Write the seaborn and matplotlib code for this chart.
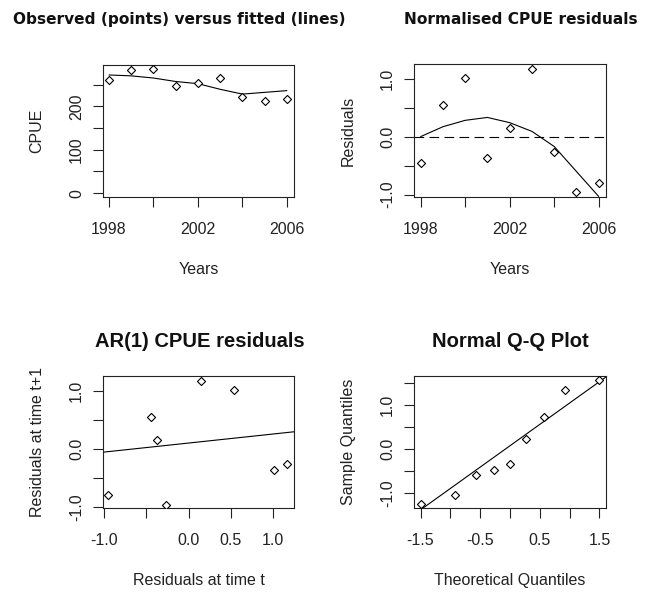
import numpy as np
import pandas as pd
import matplotlib
matplotlib.use("Agg")
import matplotlib.pyplot as plt
import seaborn as sns

# ---------------- data ----------------
years = [1998, 1999, 2000, 2001, 2002, 2003, 2004, 2005, 2006]
cpue_observed = [261, 283, 286, 246, 254, 265, 222, 212, 217]
cpue_fitted = [272, 270, 265, 257, 252, 239, 228, 232, 236]

residuals = [-0.45, 0.54, 1.01, -0.37, 0.15, 1.17, -0.27, -0.96, -0.80]
residual_trend = [0.0, 0.17, 0.28, 0.33, 0.24, 0.09, -0.17, -0.60, -1.03]

ar_intercept = 0.097
ar_slope = 0.155

qq_theoretical = [-1.49, -0.93, -0.57, -0.27, 0.0, 0.27, 0.57, 0.93, 1.49]
qq_sample = [-1.26, -1.04, -0.58, -0.48, -0.33, 0.22, 0.73, 1.35, 1.56]

titles = ["Observed (points) versus fitted (lines)", "Normalised CPUE residuals",
          "AR(1) CPUE residuals", "Normal Q-Q Plot"]

year_ticks = [1998, 2000, 2002, 2004, 2006]
year_labels = ["1998", "", "2002", "", "2006"]
cpue_ticks = [0, 50, 100, 150, 200, 250]
cpue_labels = ["0", "", "100", "", "200", ""]
res_ticks = [-1.0, -0.5, 0.0, 0.5, 1.0]
res_labels = ["-1.0", "", "0.0", "", "1.0"]
ar_x_labels = ["-1.0", "", "0.0", "0.5", "1.0"]
qq_x_ticks = [-1.5, -1.0, -0.5, 0.0, 0.5, 1.0, 1.5]
qq_x_labels = ["-1.5", "", "-0.5", "", "0.5", "", "1.5"]
qq_y_ticks = [-1.0, -0.5, 0.0, 0.5, 1.0, 1.5]
qq_y_labels = ["-1.0", "", "0.0", "", "1.0", ""]

# ---------------- style ----------------
sns.set_theme(style="white")
plt.rcParams['font.family'] = ['Liberation Sans', 'DejaVu Sans']
plt.rcParams['axes.linewidth'] = 0.8
plt.rcParams['axes.edgecolor'] = '#222222'

W, H = 648, 592
fig = plt.figure(figsize=(W / 100, H / 100), dpi=100)
fig.patch.set_facecolor('white')


def px_axes(x0, y0, x1, y1):
    return fig.add_axes([x0 / W, 1 - y1 / H, (x1 - x0) / W, (y1 - y0) / H])


ax1 = px_axes(103, 65, 294, 197)
ax2 = px_axes(414, 64, 606, 197)
ax3 = px_axes(103, 376, 294, 508)
ax4 = px_axes(414, 376, 606, 508)

mk = dict(marker='D', s=17, facecolor='white', edgecolor='black', linewidth=0.8, zorder=3)
ln = dict(color='black', linewidth=0.8)

df1 = pd.DataFrame({"year": years, "obs": cpue_observed, "fit": cpue_fitted})
sns.lineplot(data=df1, x="year", y="fit", ax=ax1, **ln)
sns.scatterplot(data=df1, x="year", y="obs", ax=ax1, **mk)
ax1.set_xlim(1997.73, 2006.32)
ax1.set_ylim(-9, 295)

df2 = pd.DataFrame({"year": years, "res": residuals, "trend": residual_trend})
sns.lineplot(data=df2, x="year", y="trend", ax=ax2, **ln)
sns.scatterplot(data=df2, x="year", y="res", ax=ax2, **mk)
ax2.axhline(0, color='black', linewidth=0.8, linestyle=(0, (8.7, 4.8)))
ax2.set_xlim(1997.7, 2006.33)
ax2.set_ylim(-1.04, 1.25)

df3 = pd.DataFrame({"rt": residuals[:-1], "rt1": residuals[1:]})
sns.scatterplot(data=df3, x="rt", y="rt1", ax=ax3, **mk)
ax3.axline((0, ar_intercept), slope=ar_slope, **ln)
ax3.set_xlim(-1.015, 1.25)
ax3.set_ylim(-1.02, 1.25)

df4 = pd.DataFrame({"tq": qq_theoretical, "sq": qq_sample})
sns.scatterplot(data=df4, x="tq", y="sq", ax=ax4, **mk)
q1, q3 = np.percentile(qq_sample, [25, 75])
z = 0.6745
qslope = (q3 - q1) / (2 * z)
qint = q1 + qslope * z
ax4.axline((0, qint), slope=qslope, **ln)
ax4.set_xlim(-1.61, 1.61)
ax4.set_ylim(-1.34, 1.66)

tick_fs = 11.5
lab_fs = 11.5
setups = [
    (ax1, year_ticks, year_labels, cpue_ticks, cpue_labels, "Years", "CPUE"),
    (ax2, year_ticks, year_labels, res_ticks, res_labels, "Years", "Residuals"),
    (ax3, res_ticks, ar_x_labels, res_ticks, res_labels, "Residuals at time t", "Residuals at time t+1"),
    (ax4, qq_x_ticks, qq_x_labels, qq_y_ticks, qq_y_labels, "Theoretical Quantiles", "Sample Quantiles"),
]
for ax, xt, xl, yt, yl, xlab, ylab in setups:
    ax.set_xticks(xt)
    ax.set_xticklabels(xl, fontsize=tick_fs, color='#222222')
    ax.set_yticks(yt)
    ax.set_yticklabels(yl, fontsize=tick_fs, rotation=90, va='center', color='#222222')
    ax.tick_params(axis='both', which='major', direction='out', length=7.2, width=0.8,
                   color='#222222', bottom=True, left=True)
    ax.tick_params(axis='x', pad=11)
    ax.tick_params(axis='y', pad=6.5)
    ax.set_xlabel(xlab, fontsize=lab_fs, labelpad=18, color='#222222')
    ax.set_ylabel(ylab, fontsize=lab_fs, labelpad=17.5, color='#222222')
    for sp in ax.spines.values():
        sp.set_visible(True)
        sp.set_color('#222222')
        sp.set_linewidth(0.8)
    ax.set_facecolor('white')

fig.text(179.5 / W, 1 - 24 / H, titles[0], ha='center', va='baseline',
         fontsize=11.1, fontweight='bold', family=['DejaVu Sans'], color='#111111')
fig.text(521 / W, 1 - 24 / H, titles[1], ha='center', va='baseline',
         fontsize=11.1, fontweight='bold', family=['DejaVu Sans'], color='#111111')
fig.text(200 / W, 1 - 347 / H, titles[2], ha='center', va='baseline',
         fontsize=14.5, fontweight='bold', color='#111111')
fig.text(510 / W, 1 - 347 / H, titles[3], ha='center', va='baseline',
         fontsize=14.5, fontweight='bold', color='#111111')

fig.savefig("out.png", dpi=100, facecolor='white')
